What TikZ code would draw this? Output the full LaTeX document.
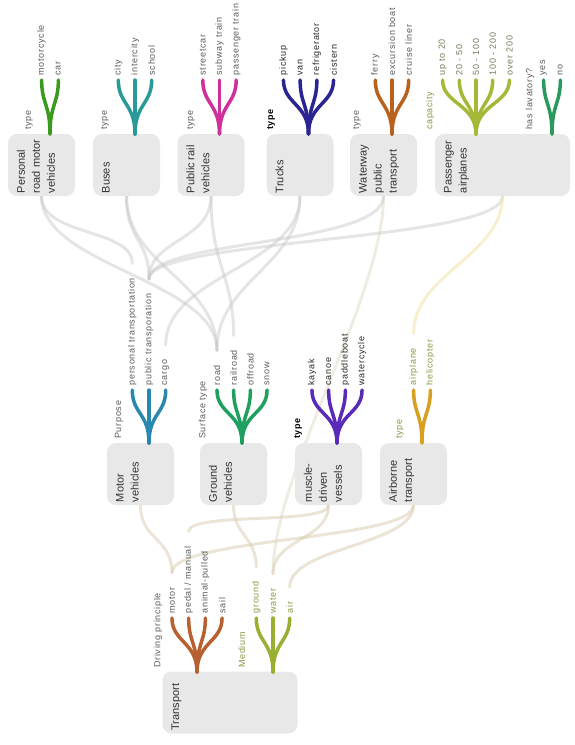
\documentclass[tikz,border=0pt]{standalone}
\usepackage{fontspec}
\setmainfont{Liberation Sans}
\newfontfamily\leaffont{Liberation Sans}[LetterSpace=8]
\usepackage{xcolor}
\usetikzlibrary{backgrounds}

\definecolor{boxgray}{HTML}{E8E8E8}
\definecolor{boxink}{HTML}{333333}
\definecolor{leafgray}{HTML}{5A5A5A}
\definecolor{darkink}{HTML}{262626}
\definecolor{oliveink}{HTML}{8E9440}
\definecolor{capink}{HTML}{77795A}
\definecolor{linkgray}{HTML}{C2C2C2}
\definecolor{linkbeige}{HTML}{D8CAB0}
\definecolor{linkyellow}{HTML}{F0E0A0}
% fork colours
\definecolor{persgreen}{HTML}{3A9A1E}
\definecolor{busteal}{HTML}{2A9A98}
\definecolor{railmagenta}{HTML}{D0309A}
\definecolor{truckindigo}{HTML}{2A2590}
\definecolor{wwbrown}{HTML}{B8621E}
\definecolor{capolive}{HTML}{A6B838}
\definecolor{lavgreen}{HTML}{2A9A5C}
\definecolor{purpblue}{HTML}{2A88B0}
\definecolor{surfgreen}{HTML}{20A060}
\definecolor{muscpurple}{HTML}{5A2AB8}
\definecolor{airgold}{HTML}{D8A020}
\definecolor{drivebrown}{HTML}{B86030}
\definecolor{medolive}{HTML}{98B030}

\begin{document}
\begin{tikzpicture}[x=1pt, y=-1pt,
  box/.style={fill=boxgray, rounded corners=9pt, minimum width=67pt, minimum height=62pt, inner sep=0pt},
  widebox/.style={box, minimum width=135pt},
  boxtext/.style={rotate=90, anchor=north west, align=left, inner sep=0pt, font=\fontsize{11}{15}\selectfont, text=boxink},
  leaf/.style={rotate=90, anchor=west, inner sep=3pt, font=\leaffont\fontsize{9}{10}\selectfont, text=leafgray},
  facet/.style={leaf, inner sep=0pt},
  branch/.style={line width=3.5pt, line cap=round},
  link/.style={line width=3pt, draw=linkgray, draw opacity=0.42, line cap=round},
  lowlink/.style={link, draw=linkbeige, draw opacity=0.5}
]
  \useasboundingbox (0,0) rectangle (574,745);

  % top row
  \node[box] (pers) at (41.5,165) {};
  \node[boxtext] at ([shift={(9,-3)}]pers.south west) {Personal\\road motor\\vehicles};
  \node[box] (bus) at (126.5,165) {};
  \node[boxtext] at ([shift={(9,-3)}]bus.south west) {Buses};
  \node[box] (rail) at (211,165) {};
  \node[boxtext] at ([shift={(9,-3)}]rail.south west) {Public rail\\vehicles};
  \node[box] (truck) at (300,165) {};
  \node[boxtext] at ([shift={(9,-3)}]truck.south west) {Trucks};
  \node[box] (ww) at (383.5,165) {};
  \node[boxtext] at ([shift={(9,-3)}]ww.south west) {Waterway\\public\\transport};
  \node[widebox] (pass) at (502.5,165) {};
  \node[boxtext] at ([shift={(9,-3)}]pass.south west) {Passenger\\airplanes};

  \node[facet] (persType) at (29,130) {type};
  \node[facet] (busType) at (105,130) {type};
  \node[facet] (railType) at (191,130) {type};
  \node[facet, text=black, font=\leaffont\fontsize{9}{10}\selectfont\bfseries] (truckType) at (271,130) {type};
  \node[facet] (wwType) at (357,130) {type};
  \node[facet, text=oliveink] (capacity) at (430,130) {capacity};
  \node[facet] (lavatory) at (530,130) {has lavatory?};

  \foreach \lab [count=\i] in {motorcycle, car}
    \draw[branch, draw=persgreen] (50,134) .. controls +(0,-30) and +(0,24) .. ({50+(\i-1.5)*16.7},80) node[leaf] (pers\i) {\lab};
  \foreach \lab [count=\i] in {city, intercity, school}
    \draw[branch, draw=busteal] (135,134) .. controls +(0,-30) and +(0,24) .. ({135+(\i-2)*16.7},80) node[leaf] (bus\i) {\lab};
  \foreach \lab [count=\i] in {streetcar, subway train, passenger train}
    \draw[branch, draw=railmagenta] (219.5,134) .. controls +(0,-30) and +(0,24) .. ({219.5+(\i-2)*16.7},80) node[leaf] (rail\i) {\lab};
  \foreach \lab [count=\i] in {pickup, van, refrigerator, cistern}
    \draw[branch, draw=truckindigo] (308.5,134) .. controls +(0,-30) and +(0,24) .. ({308.5+(\i-2.5)*16.7},80) node[leaf, text=darkink] (truck\i) {\lab};
  \foreach \lab [count=\i] in {ferry, excursion boat, cruise liner}
    \draw[branch, draw=wwbrown] (392,134) .. controls +(0,-30) and +(0,24) .. ({392+(\i-2)*16.7},80) node[leaf] (ww\i) {\lab};
  \foreach \lab [count=\i] in {up to 20, 20 - 50, 50 - 100, 100 - 200, over 200}
    \draw[branch, draw=capolive] (476,134) .. controls +(0,-30) and +(0,24) .. ({476+(\i-3)*16.7},80) node[leaf, text=capink] (cap\i) {\lab};
  \foreach \lab [count=\i] in {yes, no}
    \draw[branch, draw=lavgreen] (552,134) .. controls +(0,-30) and +(0,24) .. ({552+(\i-1.5)*16.7},80) node[leaf] (lav\i) {\lab};

  % middle row
  \node[box] (motor) at (140.5,474) {};
  \node[boxtext] at ([shift={(9,-3)}]motor.south west) {Motor\\vehicles};
  \node[box] (ground) at (233.5,474) {};
  \node[boxtext] at ([shift={(9,-3)}]ground.south west) {Ground\\vehicles};
  \node[box] (muscle) at (328.5,474) {};
  \node[boxtext] at ([shift={(9,-3)}]muscle.south west) {muscle-\\driven\\vessels};
  \node[box] (airborne) at (413.5,474) {};
  \node[boxtext] at ([shift={(9,-3)}]airborne.south west) {Airborne\\transport};

  \node[facet] (purpose) at (119,439) {Purpose};
  \node[facet] (surface) at (203,439) {Surface type};
  \node[facet, text=black, font=\leaffont\fontsize{9}{10}\selectfont\bfseries] (muscType) at (298,439) {type};
  \node[facet, text=oliveink] (airType) at (400,439) {type};

  \foreach \lab [count=\i] in {personal transportation, public transporation, cargo}
    \draw[branch, draw=purpblue] (149,443) .. controls +(0,-30) and +(0,24) .. ({149+(\i-2)*16.7},390) node[leaf] (purp\i) {\lab};
  \foreach \lab [count=\i] in {road, railroad, offroad, snow}
    \draw[branch, draw=surfgreen] (242,443) .. controls +(0,-30) and +(0,24) .. ({242+(\i-2.5)*16.7},390) node[leaf] (surf\i) {\lab};
  \foreach \lab [count=\i] in {kayak, canoe, paddleboat, watercycle}
    \draw[branch, draw=muscpurple] (337,443) .. controls +(0,-30) and +(0,24) .. ({337+(\i-2.5)*16.7},390) node[leaf, text=darkink] (musc\i) {\lab};
  \foreach \lab [count=\i] in {airplane, helicopter}
    \draw[branch, draw=airgold] (422,443) .. controls +(0,-30) and +(0,24) .. ({422+(\i-1.5)*16.7},390) node[leaf, text=oliveink] (fly\i) {\lab};

  % root
  \node[widebox] (transport) at (230,702.5) {};
  \node[boxtext] at ([shift={(9,-3)}]transport.south west) {Transport};

  \node[facet] (driving) at (158,668) {Driving principle};
  \node[facet, text=oliveink] (medium) at (242,668) {Medium};

  \foreach \lab [count=\i] in {motor, {pedal / manual}, animal-pulled, sail}
    \draw[branch, draw=drivebrown] (197,672) .. controls +(0,-30) and +(0,24) .. ({197+(\i-2.5)*16.7},618) node[leaf] (drive\i) {\lab};
  \foreach \lab [count=\i] in {ground, water, air}
    \draw[branch, draw=medolive] (273,672) .. controls +(0,-30) and +(0,24) .. ({273+(\i-2)*16.7},618) node[leaf, text=oliveink] (med\i) {\lab};

  % connectors
  \begin{scope}[on background layer]
    \draw[link] (pers.south) .. controls +(0,40) and +(0,-35) .. ([yshift=10pt]purp1.east);
    \draw[link] (pers.south) .. controls +(0,70) and +(0,-70) .. ([yshift=10pt]surf1.east);
    \draw[link] (bus.south) .. controls +(0,45) and +(0,-40) .. ([yshift=10pt]purp2.east);
    \draw[link] (bus.south) .. controls +(0,70) and +(0,-70) .. ([yshift=10pt]surf1.east);
    \draw[link] (rail.south) .. controls +(0,45) and +(0,-40) .. ([yshift=10pt]purp2.east);
    \draw[link] (rail.south) .. controls +(0,70) and +(0,-60) .. ([yshift=10pt]surf2.east);
    \draw[link] (truck.south) .. controls +(0,70) and +(0,-70) .. ([yshift=10pt]purp3.east);
    \draw[link] (truck.south) .. controls +(0,70) and +(0,-70) .. ([yshift=10pt]surf1.east);
    \draw[link] (ww.south) .. controls +(0,50) and +(0,-40) .. ([yshift=10pt]purp2.east);
    \draw[link] (pass.south) .. controls +(0,45) and +(0,-40) .. ([yshift=10pt]purp2.east);
    \draw[link, draw=linkyellow, draw opacity=0.5] (pass.south) .. controls +(0,60) and +(0,-60) .. ([yshift=10pt]fly1.east);
    \draw[lowlink, draw opacity=0.35] (ww.south) .. controls +(0,100) and +(0,-100) .. ([yshift=10pt]med2.east);

    \draw[lowlink] (motor.south) .. controls +(0,35) and +(0,-35) .. ([yshift=10pt]drive1.east);
    \draw[lowlink] (airborne.south) .. controls +(0,35) and +(0,-35) .. ([yshift=10pt]drive1.east);
    \draw[lowlink] (muscle.south) .. controls +(0,20) and +(0,-20) .. ([yshift=10pt]drive2.east);
    \draw[lowlink] (ground.south) .. controls +(0,30) and +(0,-30) .. ([yshift=10pt]med1.east);
    \draw[lowlink] (muscle.south) .. controls +(0,35) and +(0,-35) .. ([yshift=10pt]med2.east);
    \draw[lowlink] (airborne.south) .. controls +(0,40) and +(0,-40) .. ([yshift=10pt]med3.east);
  \end{scope}
\end{tikzpicture}
\end{document}
